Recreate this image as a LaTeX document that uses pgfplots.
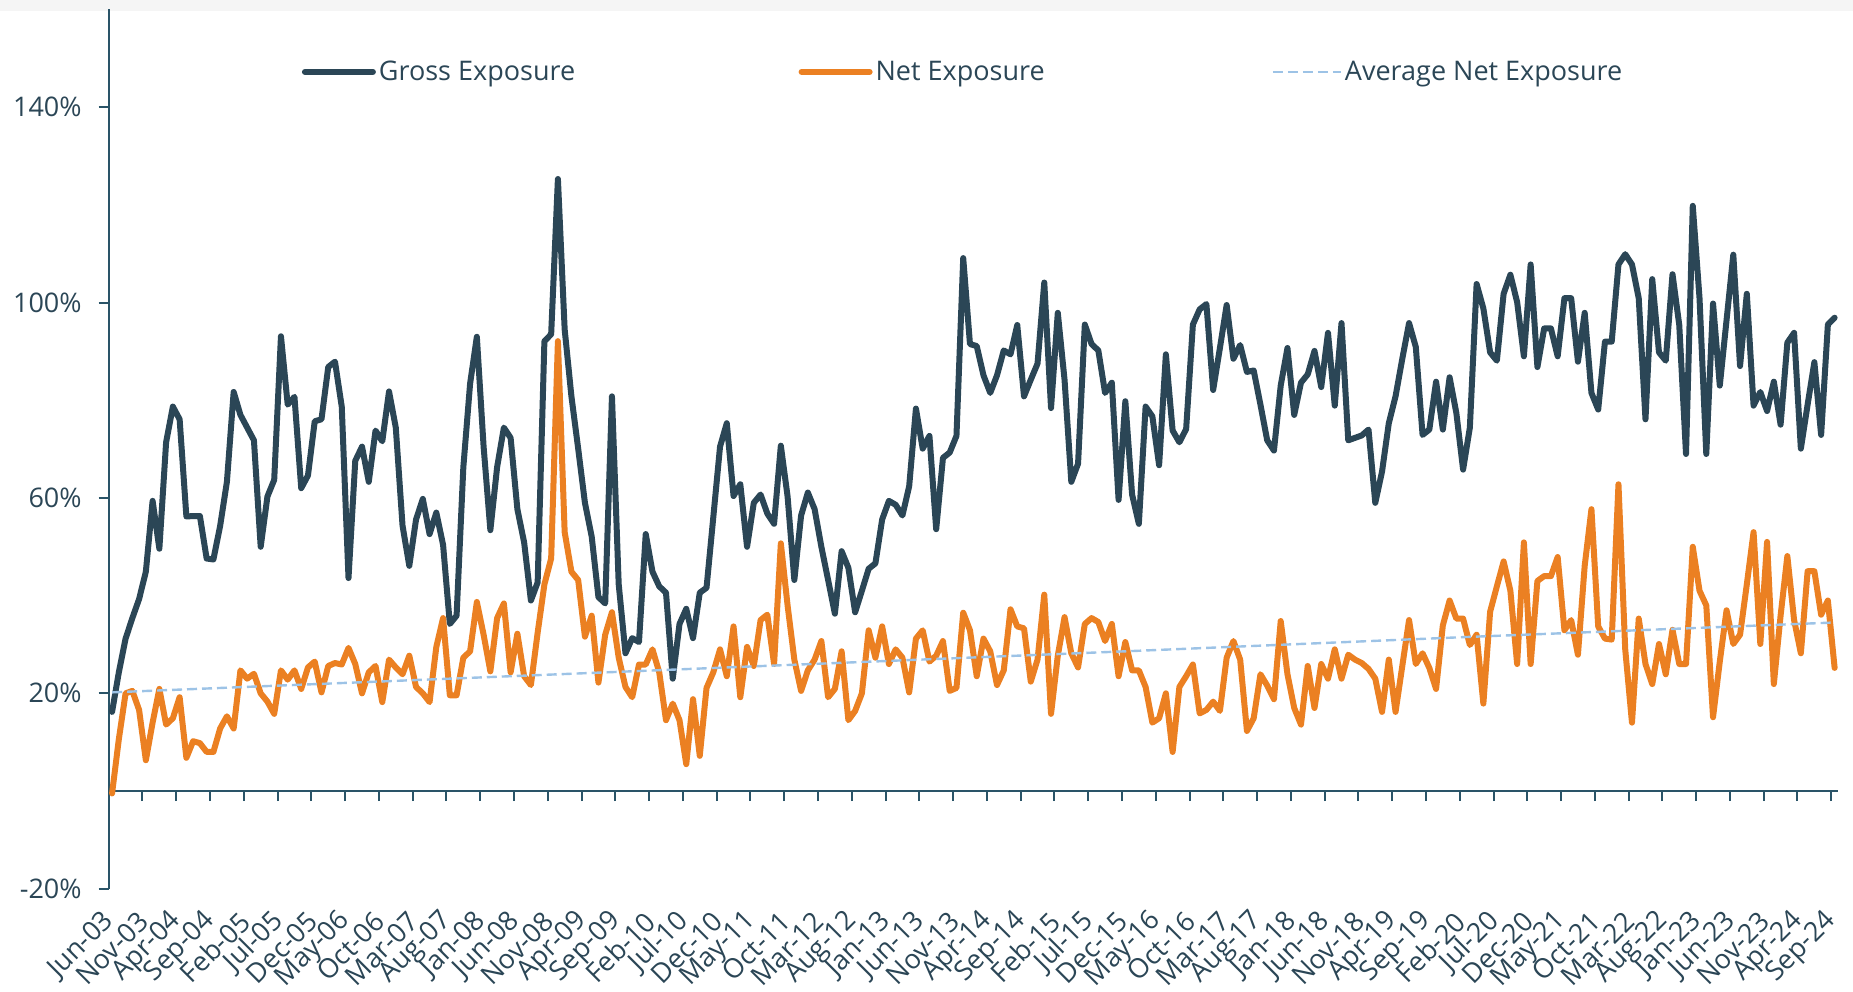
\documentclass[border=0pt]{standalone}
\usepackage{fontspec}
\setmainfont{Open Sans}
\usepackage{pgfplots}
\usepackage{pgfplotstable}
\pgfplotsset{compat=1.18}
\definecolor{gross}{HTML}{2B4656}
\definecolor{net}{HTML}{EB8022}
\definecolor{avg}{HTML}{9DC3E6}
\definecolor{axisc}{HTML}{2A5468}
\definecolor{txt}{HTML}{2B4656}

\pgfplotstableread{
i gross net
0 16.2 -0.5
1 24.3 10.6
2 31.2 20
3 35.4 20.5
4 39.3 16.6
5 44.9 6.3
6 59.4 14
7 49.6 20.9
8 71.4 13.6
9 78.7 14.9
10 76.1 19.2
11 56.2 6.8
12 56.3 10.2
13 56.3 9.8
14 47.6 8
15 47.4 8
16 54.3 12.8
17 63.3 15.3
18 81.7 12.8
19 77 24.7
20 74.4 23
21 71.8 24
22 50 20
23 60.3 18.3
24 63.7 15.8
25 93.1 24.7
26 79.1 22.8
27 80.7 24.7
28 62 20.9
29 64.6 25.3
30 75.7 26.5
31 76.1 20.2
32 86.8 25.6
33 87.9 26.2
34 78.7 25.9
35 43.6 29.3
36 67.6 26
37 70.5 20
38 63.3 24.3
39 73.8 25.6
40 71.6 18.2
41 81.8 26.9
42 74.4 25.3
43 54.3 23.9
44 46.1 27.7
45 55.6 21.3
46 59.8 20
47 52.6 18.2
48 57 29.5
49 50.4 35.4
50 34.2 19.6
51 35.9 19.6
52 66.3 27.3
53 83.4 28.6
54 93 38.7
55 70.5 32
56 53.4 24.5
57 66.3 35.4
58 74.4 38.4
59 72.3 24.3
60 57.7 32.2
61 50.9 23.5
62 39 21.7
63 42.7 32.4
64 92.1 42.3
65 93.5 47.6
66 125.3 92.1
67 94.5 53
68 80.8 44.9
69 70.1 43.2
70 59 31.6
71 52.1 35.9
72 39.7 22.2
73 38.4 32
74 80.8 36.6
75 42.3 27.3
76 28.2 21.3
77 31.3 19.2
78 30.5 25.9
79 52.6 25.9
80 44.9 29
81 41.9 24.3
82 40.6 14.5
83 23 17.9
84 34.2 14.5
85 37.3 5.5
86 31.3 18.8
87 40.6 7.2
88 41.6 21.1
89 56 24.3
90 70.5 29
91 75.3 23.5
92 60.4 33.7
93 62.8 19.2
94 50 29.5
95 59 25.6
96 60.7 35
97 56.8 36.1
98 54.7 26
99 70.7 50.7
100 60.3 38
101 43.2 26.9
102 56.4 20.5
103 61.1 24.7
104 57.7 26.9
105 50 30.7
106 43.2 19.2
107 36.3 20.9
108 49.1 28.6
109 45.7 14.5
110 36.6 16.4
111 41 20
112 45.5 32.9
113 46.6 27.3
114 55.6 33.7
115 59.4 26
116 58.6 29
117 56.4 27.3
118 62.4 20.2
119 78.3 31.2
120 70.1 32.9
121 72.7 26.5
122 53.6 27.7
123 68.2 30.7
124 69.3 20.5
125 72.7 21.1
126 109.1 36.5
127 91.5 32.9
128 91.1 23.5
129 85.1 31.2
130 81.5 28.6
131 85.1 21.7
132 90.2 24.7
133 89.4 37.2
134 95.4 33.7
135 80.8 33.3
136 84.2 22.4
137 87.5 26.9
138 104.1 40.2
139 78.4 15.8
140 97.9 27.7
141 84.2 35.6
142 63.3 28.2
143 67 25.3
144 95.5 34.2
145 91.5 35.4
146 90.2 34.6
147 81.5 30.7
148 83.6 34.2
149 59.6 23.5
150 79.8 30.5
151 60.7 24.7
152 54.7 24.7
153 78.7 21.3
154 76.7 14
155 66.7 14.9
156 89.4 20
157 73.8 8
158 71.4 21.3
159 74.1 23.5
160 95.5 25.9
161 98.6 15.9
162 99.7 16.6
163 82.1 18.3
164 90.7 16.4
165 99.5 27.3
166 88.5 30.7
167 91.3 26.9
168 85.8 12.3
169 86.1 14.9
170 79.1 23.9
171 71.8 21.6
172 69.7 18.8
173 83 34.8
174 90.7 23.9
175 77 17
176 83.6 13.6
177 85.3 25.6
178 90.1 17
179 82.7 26
180 93.8 23
181 78.9 29
182 95.8 23
183 71.8 27.9
184 72.3 26.9
185 72.8 26.2
186 74 25
187 59 23
188 65.4 16.2
189 75.3 26.9
190 80.8 16.2
191 88.5 25.6
192 95.8 35
193 90.9 26
194 72.9 28.2
195 74 25.2
196 83.8 20.9
197 74 33.9
198 84.7 39
199 77.4 35.3
200 65.8 35.3
201 74.4 29.9
202 103.8 32
203 98.8 17.9
204 89.8 36.7
205 88.1 41.9
206 101.8 47
207 105.7 41
208 100.1 26
209 89 50.9
210 107.8 26
211 86.8 43
212 94.7 44
213 94.7 44
214 89 47.9
215 100.9 32.9
216 100.9 35
217 87.9 27.9
218 97.9 46.1
219 81.5 57.7
220 78.1 33.7
221 92 31.2
222 92 31
223 107.8 62.8
224 109.9 29
225 107.8 14
226 100.9 35.3
227 76.1 26
228 104.8 21.9
229 89.8 30.1
230 88.1 23.9
231 105.8 33
232 95.4 26
233 69 26
234 119.8 50
235 100.9 41
236 69 38
237 99.8 15.1
238 83 26.5
239 96.4 37
240 109.8 30.1
241 87 32
242 101.8 42.3
243 78.9 53
244 81.7 30.1
245 77.8 51
246 83.8 21.9
247 75 35.9
248 91.8 48.1
249 93.8 35
250 70.1 28.2
251 79.1 45
252 87.8 45
253 72.9 36.1
254 95.5 39
255 96.9 25.2
}\datatable

\pgfplotstableread{
i avg
0 20.2
50 23.0
100 25.8
150 28.6
200 31.5
255 34.5
}\avgtable

\begin{document}
\begin{tikzpicture}
\useasboundingbox (-54.35pt,-51.15pt) rectangle (872.15pt,444.35pt);
\fill[black!4] (-54.35pt,444.35pt) rectangle (872.15pt,439pt);
\begin{axis}[
  at={(0pt,0pt)}, anchor=south west, scale only axis,
  width=864.65pt, height=439.6pt,
  xmin=-0.5, xmax=255.5, ymin=-20, ymax=160,
  axis x line=middle, axis y line=left,
  axis line style={-, draw=axisc, line width=1pt},
  hide obscured x ticks=false,
  xtick={-0.5,4.5,...,254.5},
  xticklabels={Jun-03,Nov-03,Apr-04,Sep-04,Feb-05,Jul-05,Dec-05,May-06,Oct-06,Mar-07,Aug-07,Jan-08,Jun-08,Nov-08,Apr-09,Sep-09,Feb-10,Jul-10,Dec-10,May-11,Oct-11,Mar-12,Aug-12,Jan-13,Jun-13,Nov-13,Apr-14,Sep-14,Feb-15,Jul-15,Dec-15,May-16,Oct-16,Mar-17,Aug-17,Jan-18,Jun-18,Nov-18,Apr-19,Sep-19,Feb-20,Jul-20,Dec-20,May-21,Oct-21,Mar-22,Aug-22,Jan-23,Jun-23,Nov-23,Apr-24,Sep-24},
  ytick={-20,20,60,100,140},
  yticklabels={-20\%,20\%,60\%,100\%,140\%},
  tick align=outside,
  major tick length=5pt,
  tick style={draw=axisc, line width=1pt},
  ticklabel style={font=\fontsize{13.5}{16}\selectfont, text=txt},
  xticklabel style={xshift=3pt, rotate=45, anchor=east},
  xticklabel shift=55.5pt,
  yticklabel shift=5pt,
  legend columns=3,
  legend style={at={(rel axis cs:0.1115,0.929)}, anchor=west, draw=none, fill=none,
    font=\fontsize{13.5}{16}\selectfont, text=txt, inner sep=0pt,
    nodes={inner sep=1.5pt},
    /tikz/column 2/.style={column sep=110.2pt},
    /tikz/column 4/.style={column sep=111.9pt}},
  legend cell align=left,
  legend image code/.code={\draw[#1] (0pt,0pt) -- (34pt,0pt);},
]
\addplot[gross, line width=3pt, line join=round, line cap=round] table[x=i, y=gross] {\datatable};
\addlegendentry{Gross Exposure}
\addplot[net, line width=3pt, line join=round, line cap=round] table[x=i, y=net] {\datatable};
\addlegendentry{Net Exposure}
\addplot[avg, line width=1.2pt, dash pattern=on 5pt off 2.5pt] table[x=i, y=avg] {\avgtable};
\addlegendentry{Average Net Exposure}
\end{axis}
\end{tikzpicture}
\end{document}
